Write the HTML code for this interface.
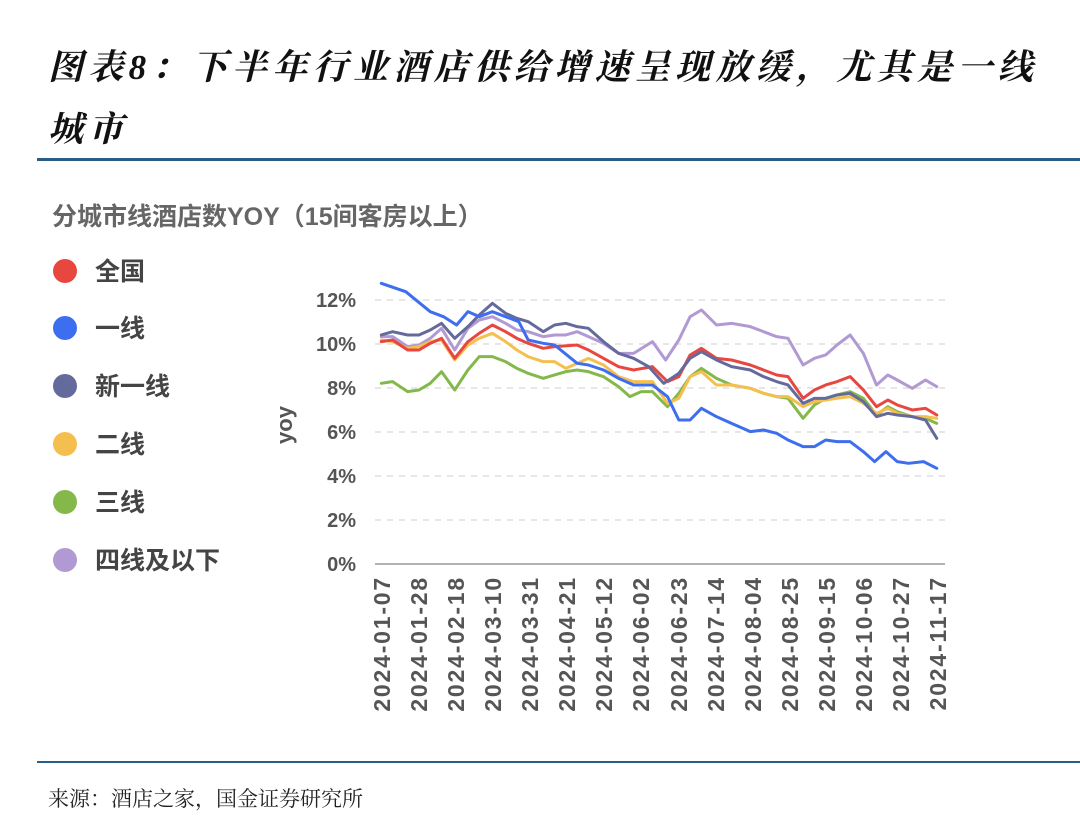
<!DOCTYPE html>
<html><head><meta charset="utf-8"><style>
body{margin:0;width:1080px;height:840px;background:#fff;overflow:hidden;position:relative;font-family:"Liberation Sans","Noto Sans CJK SC",sans-serif}
.t{position:absolute;left:48px;font-size:35px;font-weight:bold;font-style:italic;color:#111;letter-spacing:5.3px;font-family:"Liberation Serif","Noto Serif CJK SC",serif}
.hr{position:absolute;left:37px;width:1043px;height:3px;background:#2a5d85}
</style></head><body>
<div class="t" style="top:40px">图表8：下半年行业酒店供给增速呈现放缓，尤其是一线</div>
<div class="t" style="top:102px">城市</div>
<div class="hr" style="top:158px"></div>
<div class="hr" style="top:761px;height:2px"></div>
<div style="position:absolute;left:48px;top:783px;font-size:21px;color:#222;font-family:'Liberation Serif','Noto Serif CJK SC',serif">来源：酒店之家，国金证券研究所</div>
<svg width="1080" height="840" style="position:absolute;left:0;top:0" font-family="Liberation Sans, Noto Sans CJK SC, sans-serif">
<text x="52" y="225" font-size="25" font-weight="bold" fill="#666">分城市线酒店数YOY（15间客房以上）</text>
<g font-size="25" fill="#444" font-weight="bold">
<circle cx="65" cy="271" r="12" fill="#e8473f"/><text x="95" y="280">全国</text>
<circle cx="65" cy="328" r="12" fill="#3d6ef0"/><text x="95" y="337">一线</text>
<circle cx="65" cy="386" r="12" fill="#646a9c"/><text x="95" y="395">新一线</text>
<circle cx="65" cy="444" r="12" fill="#f5bf50"/><text x="95" y="453">二线</text>
<circle cx="65" cy="502" r="12" fill="#84b84a"/><text x="95" y="511">三线</text>
<circle cx="65" cy="560" r="12" fill="#b19ad3"/><text x="95" y="569">四线及以下</text>
</g>
<g stroke="#ddd" stroke-width="1.5" stroke-dasharray="6,6">
<line x1="375" x2="945" y1="300" y2="300"/><line x1="375" x2="945" y1="344" y2="344"/><line x1="375" x2="945" y1="388" y2="388"/><line x1="375" x2="945" y1="432" y2="432"/><line x1="375" x2="945" y1="476" y2="476"/><line x1="375" x2="945" y1="520" y2="520"/>
</g>
<line x1="375" x2="945" y1="564" y2="564" stroke="#999" stroke-width="1.5"/>
<g font-size="20" fill="#555" font-weight="bold" text-anchor="end">
<text x="356" y="307">12%</text><text x="356" y="351">10%</text><text x="356" y="395">8%</text><text x="356" y="439">6%</text><text x="356" y="483">4%</text><text x="356" y="527">2%</text><text x="356" y="571">0%</text>
</g>
<text transform="translate(292,425) rotate(-90)" font-size="22" font-weight="bold" fill="#555" text-anchor="middle">yoy</text>
<g font-size="23" fill="#555" font-weight="bold" text-anchor="end" letter-spacing="1.8">
<text transform="translate(390,576) rotate(-90)">2024-01-07</text>
<text transform="translate(427,576) rotate(-90)">2024-01-28</text>
<text transform="translate(464,576) rotate(-90)">2024-02-18</text>
<text transform="translate(501,576) rotate(-90)">2024-03-10</text>
<text transform="translate(538,576) rotate(-90)">2024-03-31</text>
<text transform="translate(575,576) rotate(-90)">2024-04-21</text>
<text transform="translate(612,576) rotate(-90)">2024-05-12</text>
<text transform="translate(649,576) rotate(-90)">2024-06-02</text>
<text transform="translate(687,576) rotate(-90)">2024-06-23</text>
<text transform="translate(724,576) rotate(-90)">2024-07-14</text>
<text transform="translate(761,576) rotate(-90)">2024-08-04</text>
<text transform="translate(798,576) rotate(-90)">2024-08-25</text>
<text transform="translate(835,576) rotate(-90)">2024-09-15</text>
<text transform="translate(872,576) rotate(-90)">2024-10-06</text>
<text transform="translate(909,576) rotate(-90)">2024-10-27</text>
<text transform="translate(946,576) rotate(-90)">2024-11-17</text>
</g>
<g transform="translate(370,270) scale(0.3766,0.3333)" fill="none" stroke-linejoin="round" stroke-linecap="round">
<polyline vector-effect="non-scaling-stroke" stroke-width="3" stroke="#b19ad3" points="30,200 60,200 100,230 130,225 160,205 190,175 225,240 260,175 290,150 325,140 360,160 390,180 420,185 460,200 490,195 520,195 550,185 580,200 620,220 660,250 700,250 750,215 785,270 820,210 850,140 880,120 920,165 960,160 1010,170 1045,185 1080,200 1110,205 1150,285 1180,265 1210,255 1240,225 1275,195 1310,250 1345,345 1375,315 1400,330 1440,355 1475,330 1505,350"/>
<polyline vector-effect="non-scaling-stroke" stroke-width="3" stroke="#84b84a" points="30,340 60,335 100,365 130,360 160,340 190,305 225,360 260,300 290,260 325,260 360,275 390,295 420,310 460,325 490,315 520,305 550,300 580,305 620,320 660,350 690,380 720,365 750,365 790,410 820,370 850,320 880,295 920,325 960,345 1010,355 1045,370 1080,380 1110,385 1150,445 1180,405 1210,385 1240,375 1275,365 1310,385 1345,435 1375,410 1400,425 1440,440 1475,445 1505,460"/>
<polyline vector-effect="non-scaling-stroke" stroke-width="3" stroke="#f5bf50" points="30,210 60,215 100,235 130,230 160,215 190,210 225,270 260,225 290,205 325,190 360,215 390,240 420,260 460,275 490,275 520,295 550,280 580,265 620,285 660,320 700,335 750,335 790,400 820,385 850,320 880,305 920,345 960,345 1010,355 1045,370 1080,380 1110,380 1150,410 1180,395 1210,390 1240,385 1275,380 1310,400 1345,430 1375,415 1400,430 1440,440 1475,440 1505,445"/>
<polyline vector-effect="non-scaling-stroke" stroke-width="3" stroke="#e8473f" points="30,215 60,210 100,240 130,240 160,220 190,205 225,265 260,215 290,190 325,165 360,185 390,205 420,220 460,235 490,230 550,225 580,240 620,265 660,290 700,300 750,290 790,335 820,320 850,255 880,235 920,265 960,270 1010,285 1045,300 1080,315 1110,320 1150,385 1180,360 1210,345 1240,335 1275,320 1310,360 1345,410 1375,390 1400,405 1440,420 1475,415 1505,435"/>
<polyline vector-effect="non-scaling-stroke" stroke-width="3" stroke="#646a9c" points="30,195 60,185 100,195 130,195 160,180 190,160 225,205 260,170 290,135 325,100 360,130 390,145 420,155 460,185 490,165 520,160 550,170 580,175 620,215 660,250 700,265 740,290 780,340 820,310 850,265 880,245 920,270 960,290 1010,300 1045,320 1080,335 1110,345 1150,400 1180,385 1210,385 1240,375 1275,370 1310,395 1345,440 1375,430 1400,435 1440,440 1475,450 1505,505"/>
<polyline vector-effect="non-scaling-stroke" stroke-width="3" stroke="#3d6ef0" points="30,40 95,65 160,125 195,140 230,165 260,125 290,140 325,125 360,140 395,155 420,210 460,220 490,225 550,280 580,285 620,300 660,325 700,345 750,345 790,380 820,450 850,450 880,415 920,440 960,460 1010,485 1045,480 1080,490 1110,510 1150,530 1180,530 1210,510 1240,515 1275,515 1310,545 1340,575 1370,545 1400,575 1430,580 1470,575 1505,595"/>
</g>
</svg>
</body></html>
